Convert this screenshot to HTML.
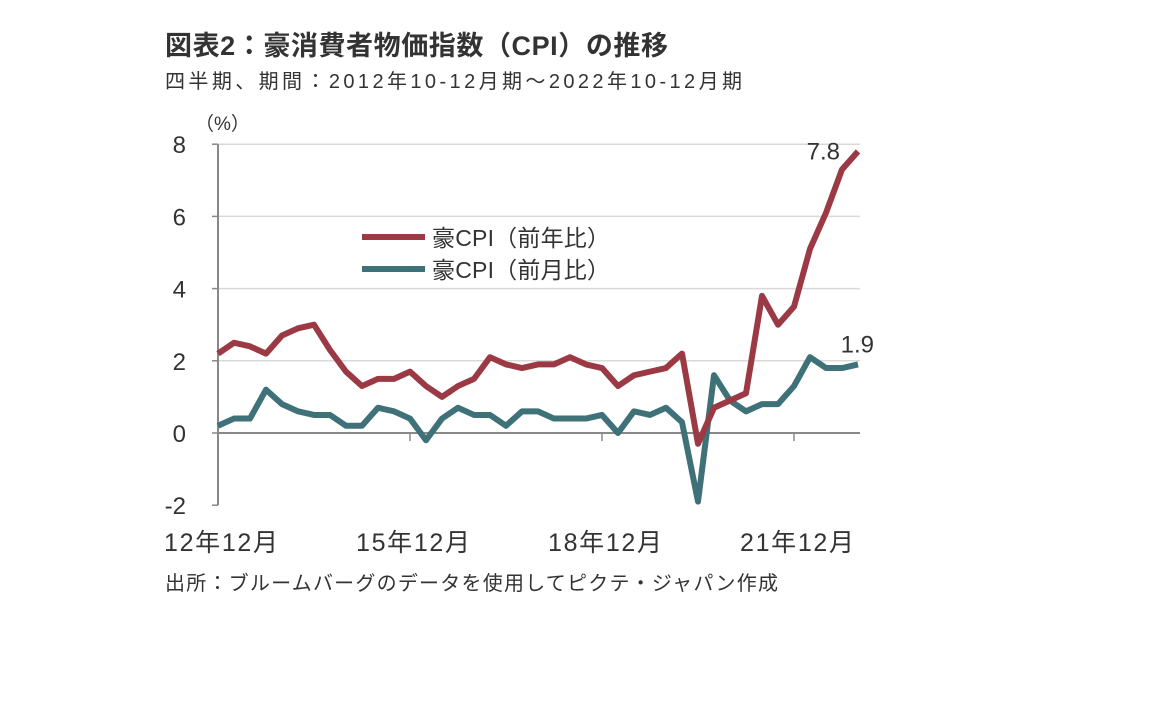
<!DOCTYPE html>
<html><head><meta charset="utf-8"><style>
body{margin:0;background:#fff;width:1152px;height:720px;overflow:hidden;font-family:"Liberation Sans","Noto Sans CJK JP",sans-serif;color:#222}
</style></head><body>
<svg width="1152" height="720" style="position:absolute;left:0;top:0;font-family:'Liberation Sans','Noto Sans CJK JP',sans-serif">
<text x="165" y="55" font-size="27" font-weight="bold" fill="#333" textLength="503">図表2：豪消費者物価指数（CPI）の推移</text>
<text x="165" y="88" font-size="20" fill="#333" textLength="577">四半期、期間：2012年10-12月期～2022年10-12月期</text>
<text x="195" y="130" font-size="19" fill="#333">（%）</text>
<g id="grid"></g>
<g id="lines"></g>
<g>
<line x1="362" y1="237" x2="425" y2="237" stroke="#9b3a44" stroke-width="6"/>
<text x="432" y="246" font-size="23" fill="#333" textLength="178">豪CPI（前年比）</text>
<line x1="362" y1="269" x2="425" y2="269" stroke="#3f7178" stroke-width="6"/>
<text x="432" y="278" font-size="23" fill="#333" textLength="178">豪CPI（前月比）</text>
</g>
<text x="165" y="590" font-size="20" fill="#333" textLength="613">出所：ブルームバーグのデータを使用してピクテ・ジャパン作成</text>
</svg>
<script>
const yoy=[2.2,2.5,2.4,2.2,2.7,2.9,3.0,2.3,1.7,1.3,1.5,1.5,1.7,1.3,1.0,1.3,1.5,2.1,1.9,1.8,1.9,1.9,2.1,1.9,1.8,1.3,1.6,1.7,1.8,2.2,-0.3,0.7,0.9,1.1,3.8,3.0,3.5,5.1,6.1,7.3,7.8];
const qoq=[0.2,0.4,0.4,1.2,0.8,0.6,0.5,0.5,0.2,0.2,0.7,0.6,0.4,-0.2,0.4,0.7,0.5,0.5,0.2,0.6,0.6,0.4,0.4,0.4,0.5,0.0,0.6,0.5,0.7,0.3,-1.9,1.6,0.9,0.6,0.8,0.8,1.3,2.1,1.8,1.8,1.9];
const yTicks=[-2,0,2,4,6,8];
const xTickIdx=[0,12,24,36];
const xTickLabels=["12年12月","15年12月","18年12月","21年12月"];
const NS="http://www.w3.org/2000/svg";
const X0=218,XS=16.0,Y0=433,YS=36.1;
const xs=i=>X0+i*XS, ys=v=>Y0-v*YS;
function mk(t,a,p){const e=document.createElementNS(NS,t);for(const k in a)e.setAttribute(k,a[k]);p.appendChild(e);return e;}
const g=document.getElementById('grid'),L=document.getElementById('lines');
yTicks.forEach(v=>{
 if(v>0){const l=mk('line',{x1:X0,x2:860,y1:ys(v),y2:ys(v),stroke:'#d9d9d9','stroke-width':1.5},g);
 
 }
 const t=mk('text',{x:186,y:ys(v)+9,'font-size':24,'text-anchor':'end',fill:'#333'},g);t.textContent=v;
 
 
 mk('line',{x1:X0-6,x2:X0,y1:ys(v),y2:ys(v),stroke:'#888','stroke-width':1.5},g);
});
const ya=mk('line',{x1:X0,x2:X0,y1:ys(8),y2:ys(-2),stroke:'#888','stroke-width':2},g);


const xa=mk('line',{x1:X0,x2:860,y1:Y0,y2:Y0,stroke:'#888','stroke-width':2},g);


xTickIdx.forEach((i,k)=>{
 mk('line',{x1:xs(i),x2:xs(i),y1:Y0,y2:Y0+8,stroke:'#888','stroke-width':1.5},g);
 const t=mk('text',{x:xs(i)+3,y:551,'font-size':25,'text-anchor':'middle',fill:'#333',textLength:114},g);t.textContent=xTickLabels[k];
 
 
});
function line(d,c,n){const p=mk('polyline',{points:d.map((v,i)=>xs(i)+','+ys(v)).join(' '),fill:'none',stroke:c,'stroke-width':6,'stroke-linejoin':'round'},L);
 
 }
line(qoq,'#3f7178','series-qoq');
line(yoy,'#9b3a44','series-yoy');
const n=yoy.length-1;
const a=mk('text',{x:xs(n)-18,y:ys(yoy[n])+8,'font-size':24,'text-anchor':'end',fill:'#333'},L);a.textContent=yoy[n].toFixed(1);


const b=mk('text',{x:xs(n)+16,y:ys(qoq[n])-12,'font-size':24,'text-anchor':'end',fill:'#333'},L);b.textContent=qoq[n].toFixed(1);


</script>
</body></html>
